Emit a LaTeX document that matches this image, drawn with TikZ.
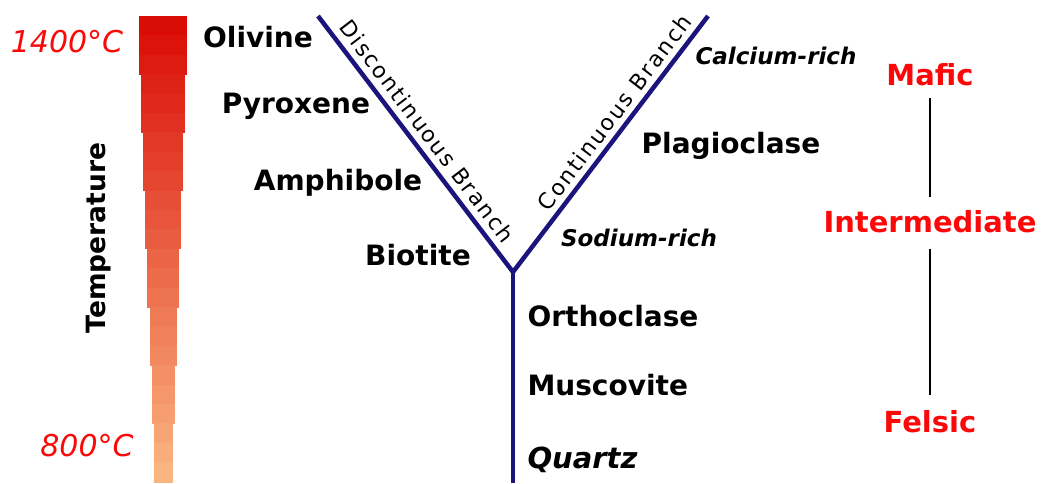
\documentclass[tikz,border=0pt]{standalone}
\usepackage{fontspec}
\setmainfont{DejaVu Sans}
\usetikzlibrary{positioning,calc}
\definecolor{branch}{RGB}{28,20,125}
\definecolor{hotred}{RGB}{218,12,6}
\definecolor{coolpeach}{RGB}{250,180,128}
\definecolor{rockred}{RGB}{252,8,8}
\tikzset{
  mineral/.style={font=\fontsize{28}{30}\selectfont\bfseries},
  mineralit/.style={font=\fontsize{29}{31}\selectfont\bfseries\itshape},
  richlabel/.style={font=\fontsize{23}{25}\selectfont\bfseries\itshape},
  templabel/.style={rockred,font=\fontsize{30}{32}\selectfont\itshape},
  rocktype/.style={rockred,font=\fontsize{29}{31}\selectfont\bfseries},
}

\begin{document}
\begin{tikzpicture}[x=1pt,y=-1pt]
  \useasboundingbox[fill=white] (0,0) rectangle (1042,483);
  % temperature bar, eight steps of three bands each
  \foreach \j in {0,...,23}{
    \pgfmathtruncatemacro{\s}{int(\j/3)}
    \pgfmathsetmacro{\p}{100*\j/23}
    \pgfmathsetmacro{\xl}{139+2.1*\s}
    \pgfmathsetmacro{\xr}{187-2*\s}
    \pgfmathsetmacro{\yt}{16+19.4*\j}
    \pgfmathsetmacro{\yb}{\j==23 ? 483 : 16+19.4*(\j+1)+0.6}
    \fill[coolpeach!\p!hotred] (\xl,\yt) rectangle (\xr,\yb);
  }
  \node[templabel] (hot) at (67,42) {1400°C};
  \node[templabel] (cool) at (87,446) {800°C};
  \node[font=\fontsize{26.5}{28}\selectfont\bfseries,rotate=90] (temp) at (99,238) {Temperature};

  % Bowen's reaction series
  \coordinate (leftend) at (318,16);
  \coordinate (rightend) at (708,16);
  \coordinate (fork) at (513,272);
  \coordinate (base) at (513,483);
  \draw[branch,line width=4.5pt] (leftend) -- (fork)
     node[black,sloped,above=3pt,pos=0.49,
          font=\fontsize{22}{24}\selectfont\addfontfeature{LetterSpace=8}] (disc) {Discontinuous Branch};
  \draw[branch,line width=4.5pt] (fork) -- (rightend)
     node[black,sloped,above=2pt,pos=0.585,
          font=\fontsize{22}{24}\selectfont\addfontfeature{LetterSpace=9}] (cont) {Continuous Branch};
  \draw[branch,line width=4.5pt] (fork) -- (base);

  \node[mineral] (olivine) at (258,37) {Olivine};
  \node[mineral] (pyroxene) at (296,106) {Pyroxene};
  \node[mineral] (amphibole) at (338,183) {Amphibole};
  \node[mineral] (biotite) at (418,255) {Biotite};
  \node[richlabel] (calcium) at (776,56) {Calcium-rich};
  \node[mineral] (plagioclase) at (731,146) {Plagioclase};
  \node[richlabel] (sodium) at (639,238) {Sodium-rich};
  \node[mineral,anchor=west] (orthoclase) at (524,316) {Orthoclase};
  \node[mineral,anchor=west] (muscovite) at (524,385) {Muscovite};
  \node[mineralit,anchor=west] (quartz) at (524,460) {Quartz};

  % rock types
  \node[rocktype] (mafic) at (930,75) {Mafic};
  \node[rocktype] (inter) at (930,222) {Intermediate};
  \node[rocktype] (felsic) at (930,422) {Felsic};
  \draw[line width=2.5pt,shorten <=8pt,shorten >=10pt] (mafic) -- (inter);
  \draw[line width=2.5pt,shorten <=12pt,shorten >=12pt] (inter) -- (felsic);
\end{tikzpicture}
\end{document}
